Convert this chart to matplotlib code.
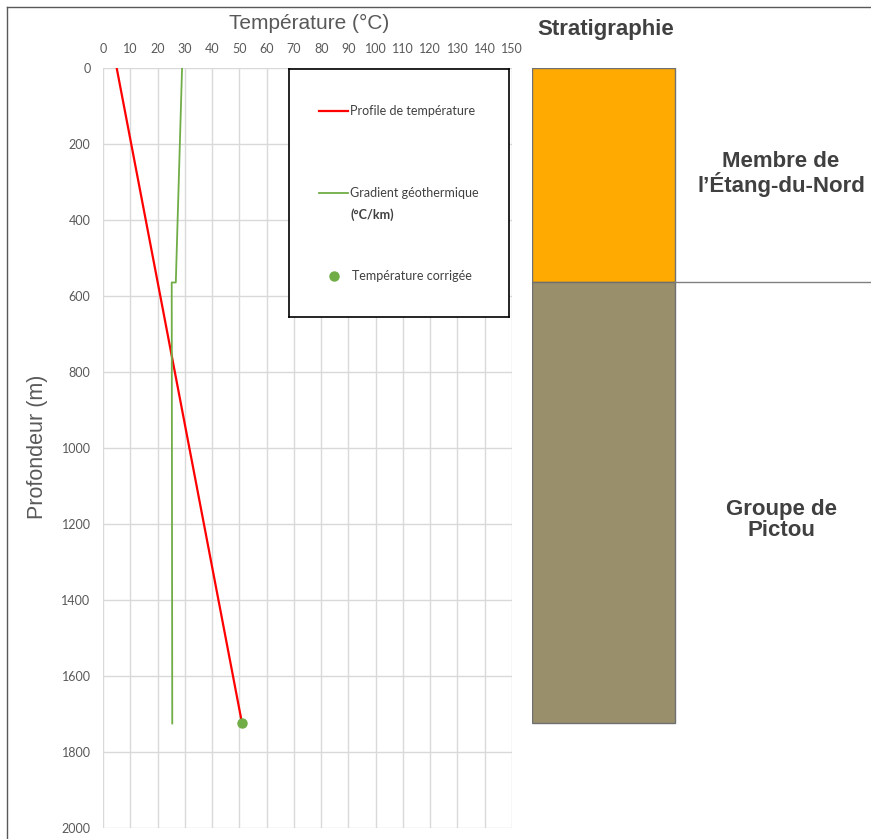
import numpy as np
import matplotlib.pyplot as plt
from matplotlib.lines import Line2D
from matplotlib.patches import Rectangle

# temperature profile (deg C) vs depth (m)
prof_depth = [0, 1725]
prof_temp = [5, 51]

# geothermal gradient (deg C/km) vs depth (m)
grad_depth = [0, 565, 565, 1725]
grad_val = [29, 26.7, 25.2, 25.4]

# corrected temperature at bottom of well
corr_depth = [1725]
corr_temp = [51]

# stratigraphy units: top, bottom, name, colour
strat_names = ["Membre de\nl\u2019\u00c9tang-du-Nord", "Groupe de\nPictou"]
strat_top = [0, 563]
strat_bot = [563, 1725]
strat_cols = ["#FFAA00", "#9A8F6B"]

W, H = 871, 839
fig = plt.figure(figsize=(W / 100, H / 100), dpi=100)

def fx(px):
    return px / W

def fy(py):
    return 1 - py / H

txt_col = "#595959"
grid_col = "#D9D9D9"
red = "#FF0000"
green = "#70AD47"

ax = fig.add_axes([fx(103), fy(828), fx(512) - fx(103), fy(67.7) - fy(828)])
ax.plot(prof_temp, prof_depth, color=red, lw=1.6, zorder=3)
ax.plot(grad_val, grad_depth, color=green, lw=1.3, zorder=3)
ax.plot(corr_temp, corr_depth, 'o', color=green, ms=6.5, zorder=4)
ax.set_xlim(0, 150)
ax.set_ylim(2000, 0)
ax.set_xticks(np.arange(0, 151, 10))
ax.set_yticks(np.arange(0, 2001, 200))
ax.xaxis.tick_top()
ax.grid(True, color=grid_col, lw=1.0)
ax.set_axisbelow(True)
for s in ax.spines.values():
    s.set_visible(False)
ax.tick_params(length=0, labelsize=9, labelcolor=txt_col)
ax.tick_params(axis='x', pad=9)
ax.tick_params(axis='y', pad=9)
for lab in ax.get_xticklabels() + ax.get_yticklabels():
    lab.set_fontfamily('Lato')
fig.text(fx(309), fy(23), "Temp\u00e9rature (\u00b0C)", ha='center', va='center',
         fontsize=15, color=txt_col, family='Liberation Sans')
fig.text(fx(38), fy(447), "Profondeur (m)", ha='center', va='center',
         rotation=90, fontsize=15.5, color=txt_col, family='Liberation Sans')

# legend box drawn by hand
lg = fig.add_axes([fx(289), fy(317), fx(509) - fx(289), fy(69) - fy(317)])
lg.set_xlim(289, 509)
lg.set_ylim(317, 69)
lg.set_xticks([])
lg.set_yticks([])
for s in lg.spines.values():
    s.set_color('black')
    s.set_linewidth(1.2)
lg.plot([319, 348], [111, 111], color=red, lw=1.6)
lg.text(350, 111, "Profile de temp\u00e9rature", va='center', fontsize=9,
        color='#404040', family='Lato')
lg.plot([319, 348], [193, 193], color=green, lw=1.3)
lg.text(350, 193, "Gradient g\u00e9othermique", va='center', fontsize=9,
        color='#404040', family='Lato')
lg.text(350, 215, "(\u00b0C/km)", va='center', fontsize=9, color='#404040',
        family='Lato', fontweight='bold')
lg.plot([334], [276], 'o', color=green, ms=6.5)
lg.text(352, 276, "Temp\u00e9rature corrig\u00e9e", va='center', fontsize=9,
        color='#404040', family='Lato')

# stratigraphy column
sx = fig.add_axes([fx(531.7), fy(828), 1 - fx(531.7), fy(67.7) - fy(828)])
sx.set_xlim(531.7, W)
sx.set_ylim(2000, 0)
sx.axis('off')
label_shift = [-2, 45]
for top, bot, col, name, dy in zip(strat_top, strat_bot, strat_cols, strat_names, label_shift):
    sx.add_patch(Rectangle((531.7, top), 675 - 531.7, bot - top,
                           facecolor=col, edgecolor='#707070', lw=1.0))
    sx.text(781, (top + bot) / 2 + dy, name, ha='center', va='center',
            fontsize=16, fontweight='bold', color='#404040',
            family='Liberation Sans', linespacing=0.98)
sx.plot([675, W], [strat_bot[0], strat_bot[0]], color='#808080', lw=1.0)
fig.text(fx(537), fy(30), "Stratigraphie", ha='left', va='center',
         fontsize=16, fontweight='bold', color='#404040', family='Liberation Sans')

# outer frame
fig.add_artist(Line2D([fx(7), 1], [fy(7), fy(7)], color='#595959', lw=1.0))
fig.add_artist(Line2D([fx(7), fx(7)], [0, fy(7)], color='#595959', lw=1.0))

fig.savefig("out.png", dpi=100)
